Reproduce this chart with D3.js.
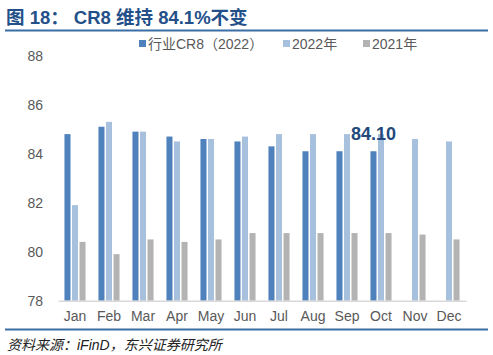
<!DOCTYPE html>
<html>
<head>
<meta charset="utf-8">
<script src="https://cdn.jsdelivr.net/npm/d3@7"></script>
<style>
  body { margin: 0; background: #fff; }
  svg { display: block; font-family: "Liberation Sans", Arial, "Noto Sans CJK SC", sans-serif; }
</style>
</head>
<body>
<script>
// data
let months = ["Jan","Feb","Mar","Apr","May","Jun","Jul","Aug","Sep","Oct","Nov","Dec"]
let seriesNames = ["行业CR8（2022）","2022年","2021年"]
let cr8 = [84.8,85.1,84.9,84.7,84.6,84.5,84.3,84.1,84.1,84.1,null,null]
let y2022 = [81.9,85.3,84.9,84.5,84.6,84.7,84.8,84.8,84.8,84.8,84.6,84.5]
let y2021 = [80.4,79.9,80.5,80.4,80.5,80.76,80.76,80.76,80.76,80.76,80.7,80.5]
let yTicks = [78,80,82,84,86,88]
let colors = ["#4f81bd","#a7c0de","#b3b3b3"]
let labelText = "84.10"
let labelIndex = 9

let w = 493, h = 355
let svg = d3.select("body").append("svg").attr("width", w).attr("height", h)

// title + rules
svg.append("text").attr("x", 6).attr("y", 24)
   .attr("font-size", 18.5).attr("font-weight", "bold").attr("fill", "#24508a")
   .attr("font-family", "\"Liberation Sans\", \"Noto Sans CJK SC\", sans-serif")
   .text("图 18： CR8 维持 84.1%不变")
svg.append("line").attr("x1", 5).attr("x2", 488).attr("y1", 30.5).attr("y2", 30.5)
   .attr("stroke", "#3a6ea5").attr("stroke-width", 2)
svg.append("line").attr("x1", 5).attr("x2", 488).attr("y1", 329.5).attr("y2", 329.5)
   .attr("stroke", "#3a6ea5").attr("stroke-width", 2)
svg.append("text").attr("x", 7).attr("y", 350)
   .attr("font-size", 14).attr("font-style", "italic").attr("fill", "#222")
   .text("资料来源：iFinD，东兴证券研究所")

// scales
let x = d3.scaleBand().domain(months).range([58, 466]).paddingInner(0.38).paddingOuter(0.19)
let xs = d3.scaleBand().domain([0,1,2]).range([0, x.bandwidth()]).paddingInner(0.2)
let y = d3.scaleLinear().domain([78, 88]).range([300.7, 55.7])

// y labels (no axis line)
let yAxis = d3.axisLeft(y).tickValues(yTicks).tickSize(0).tickPadding(0)
let gy = svg.append("g").attr("transform", "translate(43,0)").call(yAxis)
gy.select(".domain").remove()
gy.selectAll("text").attr("font-size", 14).attr("fill", "#595959")
  .attr("font-family", "\"Liberation Sans\", Arial, sans-serif")

// bars
let all = [cr8, y2022, y2021]
all.forEach((vals, s) => {
  svg.append("g").selectAll("rect")
    .data(months.map((m, i) => ({m: m, v: vals[i]})).filter(d => d.v != null))
    .enter().append("rect")
    .attr("x", d => x(d.m) + xs(s))
    .attr("width", xs.bandwidth())
    .attr("y", d => y(d.v))
    .attr("height", d => y(78) - y(d.v))
    .attr("fill", colors[s])
})

// x axis
let xAxis = d3.axisBottom(x).tickSize(0).tickPadding(10)
let gx = svg.append("g").attr("transform", "translate(0," + y(78) + ")").call(xAxis)
gx.select(".domain").attr("stroke", "#d9d9d9").attr("stroke-width", 1.5)
gx.selectAll("text").attr("font-size", 14).attr("fill", "#595959")
  .attr("font-family", "\"Liberation Sans\", Arial, sans-serif")

// data label
svg.append("text")
   .attr("x", x(months[labelIndex]) + xs(0) + xs.bandwidth() / 2)
   .attr("y", y(cr8[labelIndex]) - 11)
   .attr("text-anchor", "middle").attr("font-size", 18).attr("font-weight", "bold")
   .attr("fill", "#23497c").text(labelText)

// legend
let legX = [139, 283, 363]
seriesNames.forEach((n, i) => {
  svg.append("rect").attr("x", legX[i]).attr("y", 40).attr("width", 7).attr("height", 7).attr("fill", colors[i])
  svg.append("text").attr("x", legX[i] + 9).attr("y", 49)
     .attr("font-size", 14).attr("fill", "#595959").text(n)
})
</script>
</body>
</html>
